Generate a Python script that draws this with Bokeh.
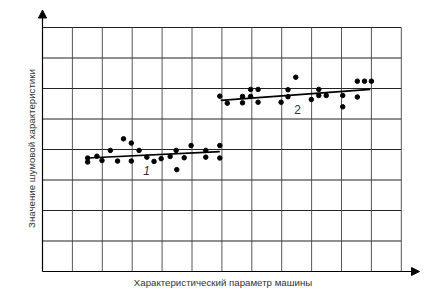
from bokeh.plotting import figure
from bokeh.models import Arrow, NormalHead, Label
from bokeh.embed import file_html
from bokeh.resources import INLINE
import math

# ---- data (grid units) ----
x1 = [1.51, 1.51, 1.82, 1.99, 2.27, 2.51, 2.71, 2.97, 2.97, 3.23, 3.49,
      3.73, 3.97, 4.27, 4.47, 4.49, 4.74, 4.97, 5.46, 5.46, 5.93, 5.93]
y1 = [3.72, 3.59, 3.78, 3.64, 3.97, 3.62, 4.35, 4.21, 3.62, 3.97, 3.75,
      3.61, 3.70, 3.77, 3.97, 3.34, 3.73, 4.13, 3.97, 3.75, 4.13, 3.72]

x2 = [5.93, 6.18, 6.69, 6.69, 6.96, 6.96, 7.21, 7.21, 7.98, 8.21, 8.21,
      8.47, 8.99, 9.24, 9.24, 9.49, 10.04, 10.04, 10.53, 10.53, 10.77, 11.0]
y2 = [5.75, 5.52, 5.74, 5.53, 5.97, 5.74, 5.97, 5.55, 5.55, 5.96, 5.73,
      6.37, 5.64, 5.97, 5.77, 5.77, 5.77, 5.40, 6.24, 5.72, 6.24, 6.24]

trend1_x = [1.50, 5.93]
trend1_y = [3.72, 3.93]
trend2_x = [5.96, 10.96]
trend2_y = [5.61, 5.97]

x_grid = [1, 2, 3, 4, 5, 6, 7, 8, 9, 10, 11, 12]
y_grid = [1, 2, 3, 4, 5, 6, 7, 8]

series_labels = ["1", "2"]
x_title = "Характеристический параметр машины"
y_title = "Значение шумовой характеристики"

FONT = "Liberation Sans"

p = figure(width=429, height=292, output_backend="svg", toolbar_location=None,
           x_range=(-42 / 29.9, (429 - 42) / 29.9),
           y_range=(-(292 - 271) / 30.5, 271 / 30.5),
           x_axis_type=None, y_axis_type=None, min_border=0)
p.outline_line_color = None
p.xgrid.visible = False
p.ygrid.visible = False
p.background_fill_color = "white"
p.border_fill_color = "white"

# grid
p.segment(x0=[0] * len(y_grid), y0=y_grid, x1=[max(x_grid)] * len(y_grid), y1=y_grid,
          line_color="#222222", line_width=1.1)
p.segment(x0=x_grid, y0=[0] * len(x_grid), x1=x_grid, y1=[max(y_grid)] * len(x_grid),
          line_color="#444444", line_width=0.9)

# axes with arrows
p.add_layout(Arrow(end=NormalHead(size=8, fill_color="black", line_color="black"),
                   x_start=0, y_start=0, x_end=0, y_end=(271 - 9.5) / 30.5,
                   line_color="black", line_width=1.2))
p.add_layout(Arrow(end=NormalHead(size=8, fill_color="black", line_color="black"),
                   x_start=0, y_start=0, x_end=(419 - 42) / 29.9, y_end=0,
                   line_color="black", line_width=1.2))

# trend lines
p.line(trend1_x, trend1_y, line_color="black", line_width=1.6)
p.line(trend2_x, trend2_y, line_color="black", line_width=1.6)

# points
p.scatter(x1, y1, size=4.5, color="black")
p.scatter(x2, y2, size=4.5, color="black")

# series labels
p.add_layout(Label(x=3.48, y=3.31, text=series_labels[0], text_font=FONT,
                   text_font_size="12px", text_font_style="italic",
                   text_align="center", text_baseline="middle", text_color="#333333"))
p.add_layout(Label(x=8.53, y=5.31, text=series_labels[1], text_font=FONT,
                   text_font_size="12px", text_align="center",
                   text_baseline="middle", text_color="#333333"))

# axis titles
p.add_layout(Label(x=(222.5 - 42) / 29.9, y=-(281.5 - 271) / 30.5, text=x_title,
                   text_font=FONT, text_font_size="9.7px", text_align="center",
                   text_baseline="middle", text_color="#333333"))
p.add_layout(Label(x=(31 - 42) / 29.9, y=(271 - 148) / 30.5, text=y_title,
                   text_font=FONT, text_font_size="9.7px", text_align="center",
                   text_baseline="middle", angle=math.pi / 2, text_color="#333333"))

open("out.html", "w").write(file_html(p, INLINE))
